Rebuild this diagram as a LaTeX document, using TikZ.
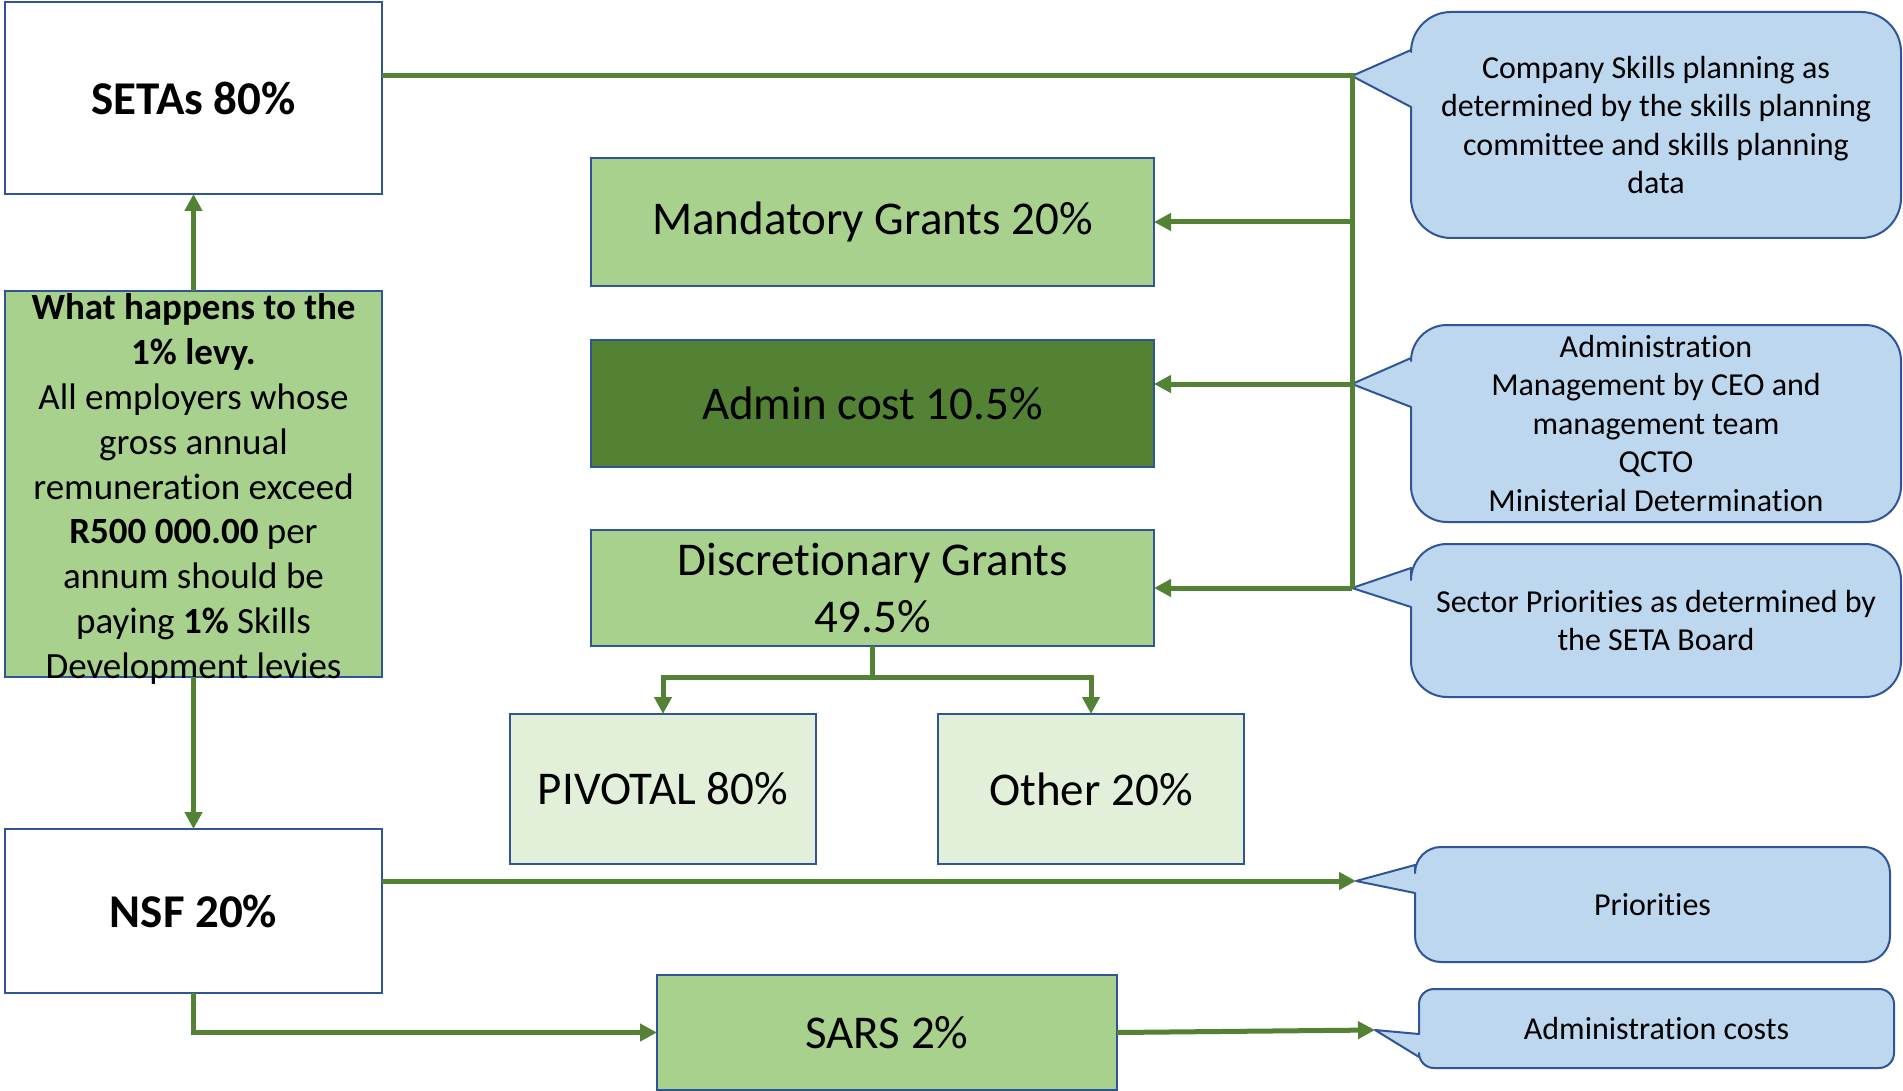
\documentclass[tikz,border=0pt]{standalone}
\usepackage{fontspec}
\setmainfont{Carlito}[Ligatures=NoCommon]
\usetikzlibrary{arrows.meta,backgrounds}

\definecolor{boxblue}{HTML}{2F5597}
\definecolor{flowgreen}{HTML}{548235}
\definecolor{grantgreen}{HTML}{A9D18E}
\definecolor{palegreen}{HTML}{E2F0D9}
\definecolor{noteblue}{HTML}{BDD7EE}

\newcommand{\boxfont}{\fontsize{47}{57}\selectfont}
\newcommand{\levyfont}{\fontsize{37}{44.8}\selectfont}
\newcommand{\notefont}{\fontsize{32}{38.5}\selectfont}

\tikzset{
  box/.style={draw=boxblue, line width=2pt, inner sep=0pt, outer sep=0pt,
    align=center, font=\boxfont},
  fund/.style={box, fill=white, font=\boxfont\bfseries},
  grant/.style={box, fill=grantgreen},
  share/.style={box, fill=palegreen},
  note/.style={inner sep=0pt, outer sep=0pt, align=center, font=\notefont},
  bubble/.style={fill=noteblue, draw=boxblue, line width=2pt, line join=round},
  flow/.style={draw=flowgreen, line width=5pt},
  flowarrow/.style={flow, -{Triangle[length=17pt,width=17pt]}},
}

\begin{document}
\begin{tikzpicture}[x=1pt, y=-1pt]
\useasboundingbox (0,0) rectangle (1903,1091);

% Where the levy goes
\node[fund, minimum width=377pt, minimum height=192pt] (setas) at (193.5,98) {SETAs 80\%};
\node[grant, minimum width=377pt, minimum height=386pt] (levy) at (193.5,484) {};
\node[fund, minimum width=377pt, minimum height=164pt] (nsf) at (193.5,911) {NSF 20\%};

\node[align=center, font=\levyfont, inner sep=0pt] (levytext) at (193.5,489) {%
  \textbf{What happens to the}\\ \textbf{1\% levy.}\\ All employers whose\\
  gross annual\\ remuneration exceed\\ \textbf{R500 000.00} per\\
  annum should be\\ paying \textbf{1\%} Skills\\ Development levies};

% SETA budget
\node[grant, minimum width=563pt, minimum height=128pt] (mand) at (872.5,222) {Mandatory Grants 20\%};
\node[box, fill=flowgreen, minimum width=563pt, minimum height=127pt] (admin) at (872.5,403.5) {Admin cost 10.5\%};
\node[grant, minimum width=563pt, minimum height=116pt] (disc) at (872.5,588) {Discretionary Grants\\49.5\%};

\node[share, minimum width=306pt, minimum height=150pt] (pivotal) at (663,789) {PIVOTAL 80\%};
\node[share, minimum width=306pt, minimum height=150pt] (other) at (1091,789) {Other 20\%};

\node[grant, minimum width=460pt, minimum height=115pt] (sars) at (887,1032.5) {SARS 2\%};

% Notes
\node[note, minimum width=490pt, minimum height=226pt] (c1) at (1656,125)
  {Company Skills planning as\\determined by the skills planning\\committee and skills planning\\data};
\node[note, minimum width=490pt, minimum height=197pt] (c2) at (1656,423.5)
  {Administration\\Management by CEO and\\management team\\QCTO\\Ministerial Determination};
\node[note, minimum width=490pt, minimum height=153pt] (c3) at (1656,620.5)
  {Sector Priorities as determined by\\the SETA Board};
\node[note, minimum width=475pt, minimum height=115pt] (c4) at (1652.5,904.5) {Priorities};
\node[note, minimum width=475pt, minimum height=79pt] (c5) at (1656.5,1028.5) {Administration costs};

\coordinate (c1tip) at (1352,76);
\coordinate (c2tip) at (1352,384);
\coordinate (c3tip) at (1352,588);
\coordinate (c4tip) at (1356,881);
\coordinate (c5tip) at (1375,1030);

\begin{scope}[on background layer]
\draw[bubble] (c1tip) -- (c1.west |- 0,107) [rounded corners=40pt] -- (c1.south west)
  -- (c1.south east) -- (c1.north east) -- (c1.north west) [sharp corners] -- (c1.west |- 0,50) -- cycle;
\draw[bubble] (c2tip) -- (c2.west |- 0,407) [rounded corners=36pt] -- (c2.south west)
  -- (c2.south east) -- (c2.north east) -- (c2.north west) [sharp corners] -- (c2.west |- 0,358) -- cycle;
\draw[bubble] (c3tip) -- (c3.west |- 0,607) [rounded corners=36pt] -- (c3.south west)
  -- (c3.south east) -- (c3.north east) -- (c3.north west) [sharp corners] -- (c3.west |- 0,568) -- cycle;
\draw[bubble] (c4tip) -- (c4.west |- 0,893) [rounded corners=26pt] -- (c4.south west)
  -- (c4.south east) -- (c4.north east) -- (c4.north west) [sharp corners] -- (c4.west |- 0,865) -- cycle;
\draw[bubble] (c5tip) -- (c5.west |- 0,1057) [rounded corners=15pt] -- (c5.south west)
  -- (c5.south east) -- (c5.north east) -- (c5.north west) [sharp corners] -- (c5.west |- 0,1034) -- cycle;
\end{scope}

% SETA share and its split
\draw[flow, line join=miter] (setas.east |- c1tip) -- (c1tip) -- (c3tip);
\draw[flowarrow] (mand.east -| c1tip) -- (mand.east);
\draw[flowarrow] (c2tip) -- (c2tip -| admin.east);
\draw[flowarrow] (c3tip) -- (c3tip -| disc.east);

\draw[flow] (disc.south) -- ++(0,31) coordinate (fork);
\draw[flowarrow] (fork) -| (pivotal.north);
\draw[flowarrow] (fork) -| (other.north);

% Levy flows
\draw[flowarrow] (levy.north) -- (setas.south);
\draw[flowarrow] (levy.south) -- (nsf.north);
\draw[flowarrow] (nsf.east |- c4tip) -- (c4tip);
\draw[flowarrow] (nsf.south) |- (sars.west);
\draw[flowarrow] (sars.east) -- (c5tip);
\end{tikzpicture}
\end{document}
